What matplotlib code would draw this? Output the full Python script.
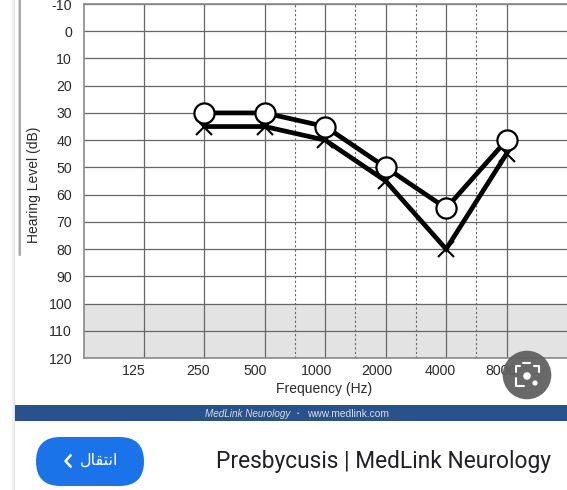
import matplotlib
matplotlib.use("Agg")
import matplotlib.pyplot as plt
from matplotlib.patches import Circle, FancyBboxPatch, Rectangle
from matplotlib.transforms import ScaledTranslation

W, H = 567, 490

# audiogram values
freqs = [125, 250, 500, 1000, 2000, 4000, 8000]
freq_labels = ["125", "250", "500", "1000", "2000", "4000", "8000"]
half_octaves = [707, 1414, 2828, 5657]
db_ticks = list(range(-10, 130, 10))
tested_freqs = [250, 500, 1000, 2000, 4000, 8000]
circle_db = [30, 30, 35, 50, 65, 40]
cross_db = [35, 35, 40, 55, 80, 45]

title = "Presbycusis | MedLink Neurology"
# presentation forms, visual order: matplotlib does no Arabic shaping
button_text = "\ufedd\ufe8e\ufed8\ufe98\ufee7\ufe8d"

plt.rcParams["font.family"] = ["Liberation Sans", "DejaVu Sans"]
plt.rcParams["axes.unicode_minus"] = False

fig = plt.figure(figsize=(W / 100, H / 100), dpi=100, facecolor="white")

left, right, top, bottom = 83.5, 567, 4, 358
ax = fig.add_axes([left / W, 1 - bottom / H, (right - left) / W, (bottom - top) / H])
ax.set_xscale("log", base=2)
ax.set_xlim(62.5, 16000)
ax.set_ylim(120, -10)

grid_col = "#666666"
ax.axhspan(100, 120, color="#e3e3e3", zorder=0)
ax.set_xticks(freqs, freq_labels)
ax.set_xticks([], minor=True)
ax.set_yticks(db_ticks)
ax.grid(True, color=grid_col, lw=0.9, zorder=1)
for f in half_octaves:
    ax.axvline(f, color="#666666", lw=0.8, ls=(0, (2, 2)), zorder=1)
for name, sp in ax.spines.items():
    sp.set_color("#8a8a8a")
    sp.set_linewidth(1.2)
    sp.set_visible(name != "right")
ax.tick_params(length=0, labelsize=10.2, labelcolor="#2a2a2a")
ax.tick_params(axis="y", pad=8.2)
ax.tick_params(axis="x", pad=4)

# the tick labels sit left of their grid lines in the original
label_shift = [-10, -6, -10, -9, -9, -5.5, -6]
for lab, dx in zip(ax.get_xticklabels(), label_shift):
    lab.set_transform(lab.get_transform() + ScaledTranslation(dx / 100, 0, fig.dpi_scale_trans))

ax.set_xlabel("Frequency (Hz)", fontsize=10, color="#2a2a2a")
ax.xaxis.set_label_coords((324.5 - left) / (right - left), -0.068)
ax.set_ylabel("Hearing Level (dB)", fontsize=10, color="#2a2a2a")
ax.yaxis.set_label_coords((41 - left) / (right - left), 1 - (185 - top) / (bottom - top))

ax.plot(tested_freqs, cross_db, color="black", lw=3.4, marker="x", ms=11, mew=1.5,
        clip_on=False, zorder=3, solid_joinstyle="miter")
ax.plot(tested_freqs, circle_db, color="black", lw=3.4, marker="o", ms=14.5, mfc="white",
        mec="black", mew=1.6, clip_on=False, zorder=4)

# page furniture, in pixel coordinates of the screenshot
ov = fig.add_axes([0, 0, 1, 1], zorder=5)
ov.set_xlim(0, W)
ov.set_ylim(H, 0)
ov.axis("off")
ov.patch.set_alpha(0)

ov.add_patch(Rectangle((12, 0), 1.5, H, color="#f2f2f2", lw=0))
ov.add_patch(Rectangle((13.5, 0), 1.5, H, color="#e2e2e2", lw=0))
ov.add_patch(FancyBboxPatch((18.5, -5), 2.5, 261, boxstyle="round,pad=0,rounding_size=1.2",
                            fc="#a9a9a9", ec="none"))
ov.add_patch(Rectangle((15, 405), W - 15, 16, color="#29528a", lw=0))
ov.text(247.5, 413.5, "MedLink Neurology", fontsize=7.1, style="italic", color="#d5dee9",
        ha="center", va="center")
ov.text(298, 413.5, "\u2022", fontsize=4.5, color="#d5dee9", ha="center", va="center")
ov.text(348, 413.5, "www.medlink.com", fontsize=7.4, color="#d5dee9", ha="center", va="center")

ov.add_patch(FancyBboxPatch((36, 437), 108, 49, boxstyle="round,pad=0,rounding_size=24.5",
                            fc="#1a73e8", ec="none"))
ov.text(99, 460.5, button_text, fontsize=11.5, color="white", ha="center", va="center",
        family="DejaVu Sans")
ov.plot([70.5, 65.5, 70.5], [455.5, 461, 466.5], color="white", lw=1.8)

ov.text(551, 461, title, fontsize=16.4, color="#202124", family="Roboto", ha="right", va="center")

# lens button over the corner of the chart
ov.add_patch(Circle((527, 375), 24.3, fc="#5e5e5e", ec="none", alpha=0.93))
icon = dict(color="white", lw=1.5, solid_capstyle="round")
ov.plot([516, 516, 520], [372, 366, 366], **icon)
ov.plot([534, 539, 539], [366, 366, 372], **icon)
ov.plot([516, 516, 524], [378, 386, 386], **icon)
ov.plot([523, 530], [363, 363], **icon)
ov.add_patch(Circle((527, 376), 3.8, fc="white", ec="none"))
ov.add_patch(Circle((535, 383), 2.6, fc="white", ec="none"))

fig.savefig("out.png", dpi=100)
